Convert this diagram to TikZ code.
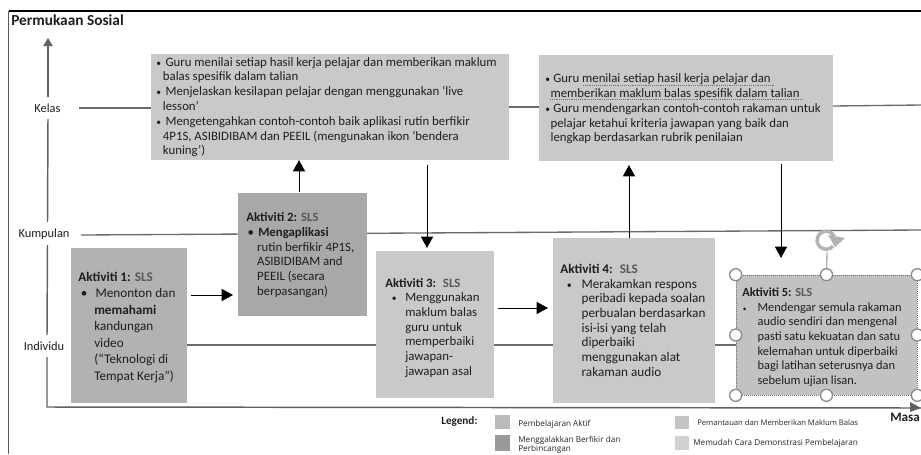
\documentclass[tikz,border=0pt]{standalone}
\usepackage{fontspec}
\setmainfont{Carlito}
\newfontfamily\legfont{Open Sans}
\usetikzlibrary{arrows.meta,fit}
\definecolor{txt}{HTML}{1E1E1E}
\definecolor{slsc}{HTML}{595959}
\newcommand{\SLS}{\textcolor{slsc}{SLS}}
\newcommand{\blt}{\makebox[0pt][l]{\textbullet}}
\newcommand{\sblt}{\makebox[0pt][l]{\scalebox{0.75}{\textbullet}}}
\tikzset{
 x=0.75pt,y=-0.75pt,
 panel/.style={fit={#1},inner sep=0pt,draw=none},
 body/.style={anchor=north west,inner sep=0pt,align=left,text=txt,font=\fontsize{9.6}{11.1}\selectfont},
 axis/.style={draw=black!62,line width=1.1pt},
 level/.style={anchor=center,inner sep=0pt,text=txt,font=\fontsize{9.3}{10}\selectfont},
 lane/.style={draw=black!58,line width=1pt},
 flow/.style={draw=black,line width=0.75pt,-{Triangle[length=8.5pt,width=9pt]}},
 handle/.style={circle,draw=black!45,fill=white,line width=1pt,minimum size=9pt,inner sep=0pt},
 legtext/.style={anchor=west,inner sep=0pt,text=black!85,font=\legfont\fontsize{6.15}{7.2}\selectfont},
 swatch/.style={fit={#1},inner sep=0pt},
 squiggle/.style={draw=black!55,densely dotted,line width=0.4pt}
}
\begin{document}
\begin{tikzpicture}
\useasboundingbox (0,0) rectangle (921,454);
\clip (0,0) rectangle (921,454);
\fill[white] (0,0) rectangle (921,454);
% frame
\draw[black,line width=0.8pt] (8.5,11) -- (921,11);
\draw[black!65,line width=1.1pt] (8.5,11) -- (8.5,454);
\node[anchor=west,inner sep=0pt,font=\bfseries\fontsize{11.5}{13}\selectfont,text=txt] (title) at (11,20) {Permukaan Sosial};
% levels
\node[level] (kelas) at (47.5,108) {Kelas};
\node[level] (kumpulan) at (44,234) {Kumpulan};
\node[level] (individu) at (44,346) {Individu};
\coordinate (ytop) at (48,38);
\coordinate (origin) at (47,407);
\coordinate (xend) at (921,408);
% boxes
\node[panel={(151,54)(509,160)},fill=black!21] (u1) {};
\node[panel={(539,55)(833,161)},fill=black!21] (u2) {};
% lanes behind lower boxes
\coordinate (ka) at (79,108);
\coordinate (kb) at (921,105);
\coordinate (ma) at (81,235);
\coordinate (mb) at (921,230);
\coordinate (ia) at (187,345);
\coordinate (ib) at (736,345);
\draw[lane] (ka) -- (u1.west |- ka);
\draw[lane] (509,107) -- (539,107);
\draw[lane] (833,106) -- (kb);
\draw[lane] (ma) -- (mb);
\draw[lane] (ia) -- (ib);
% axis
\draw[axis,-{Triangle[length=6pt,width=7pt]}] (48,97) -- (ytop);
\draw[axis] (48,119) -- (47.5,222);
\draw[axis] (47.5,245) -- (47,335);
\draw[axis] (47,357) -- (origin) -- (xend);
\fill[black!62] (921,408) -- (910,402) -- (910,412) -- cycle;
% lower boxes
\node[panel={(71,248)(187,403)},fill=black!30] (a1) {};
\node[panel={(238,193)(367,316)},fill=black!34] (a2) {};
\node[panel={(376,251)(494,398)},fill=black!21] (a3) {};
\node[panel={(553,238)(715,403)},fill=black!21] (a4) {};
\node[panel={(736,275)(917,395)},fill=black!24,draw=black!55,densely dotted,line width=0.5pt] (a5) {};
% texts
\node[body] (t1) at (156,57) {\sblt\hspace*{7pt}Guru menilai setiap hasil kerja pelajar dan memberikan maklum\\
\hspace*{5pt}balas spesifik dalam talian\\
\sblt\hspace*{7pt}Menjelaskan kesilapan pelajar dengan menggunakan ‘live\\
\hspace*{5pt}lesson’\\
\sblt\hspace*{7pt}Mengetengahkan contoh-contoh baik aplikasi rutin berfikir\\
\hspace*{5pt}4P1S, ASIBIDIBAM dan PEEIL (mengunakan ikon ‘bendera\\
\hspace*{5pt}kuning’)};
\node[body] (t2) at (545,73.5) {\sblt\hspace*{6pt}Guru menilai setiap hasil kerja pelajar dan\\
\hspace*{4pt}memberikan maklum balas spesifik dalam talian\\
\sblt\hspace*{6pt}Guru mendengarkan contoh-contoh rakaman untuk\\
\hspace*{4pt}pelajar ketahui kriteria jawapan yang baik dan\\
\hspace*{4pt}lengkap berdasarkan rubrik penilaian};
\draw[squiggle] (583,85) -- (775,85);
\draw[squiggle] (550,99.5) -- (803,99.5);
\node[body,font=\fontsize{9.9}{12.4}\selectfont] (t3) at (78,271.5) {\textbf{Aktiviti 1:} \textbf{\SLS}\\
\hspace*{2pt}\blt\hspace*{11pt}Menonton dan\\
\hspace*{12pt}\textbf{memahami}\\
\hspace*{12pt}kandungan\\
\hspace*{12pt}video\\
\hspace*{12pt}(“Teknologi di\\
\hspace*{12pt}Tempat Kerja”)};
\node[body,font=\fontsize{9.6}{11}\selectfont] (t4) at (246,212.5) {\textbf{Aktiviti 2:} \textbf{\SLS}\\
\hspace*{1pt}\blt\hspace*{8pt}\textbf{Mengaplikasi}\\
\hspace*{8.2pt}rutin berfikir 4P1S,\\
\hspace*{8.2pt}ASIBIDIBAM and\\
\hspace*{8.2pt}PEEIL (secara\\
\hspace*{8.2pt}berpasangan)};
\node[body,font=\fontsize{9.6}{11}\selectfont] (t5) at (385,278) {\textbf{Aktiviti 3:} \ \textbf{\SLS}\\
\hspace*{5pt}\sblt\hspace*{10pt}Menggunakan\\
\hspace*{15pt}maklum balas\\
\hspace*{15pt}guru untuk\\
\hspace*{15pt}memperbaiki\\
\hspace*{15pt}jawapan-\\
\hspace*{15pt}jawapan asal};
\node[body,font=\fontsize{9.9}{11}\selectfont] (t6) at (560,264) {\textbf{Aktiviti 4:} \ \textbf{\SLS}\\
\hspace*{5pt}\sblt\hspace*{11pt}Merakamkan respons\\
\hspace*{16pt}peribadi kepada soalan\\
\hspace*{16pt}perbualan berdasarkan\\
\hspace*{16pt}isi-isi yang telah\\
\hspace*{16pt}diperbaiki\\
\hspace*{16pt}menggunakan alat\\
\hspace*{16pt}rakaman audio};
\node[body,font=\fontsize{9.3}{11}\selectfont] (t7) at (742,287.5) {\textbf{Aktiviti 5:} \textbf{\SLS}\\
\makebox[0pt][l]{\hspace*{0.5pt}\scalebox{0.6}{\textbullet}}\hspace*{11.5pt}Mendengar semula rakaman\\
\hspace*{11.5pt}audio sendiri dan mengenal\\
\hspace*{11.5pt}pasti satu kekuatan dan satu\\
\hspace*{11.5pt}kelemahan untuk diperbaiki\\
\hspace*{11.5pt}bagi latihan seterusnya dan\\
\hspace*{11.5pt}sebelum ujian lisan.};
% connectors
\coordinate (f1s) at (299,192);\coordinate (f1e) at (299,160);
\coordinate (f2s) at (427,165);\coordinate (f2e) at (427,248);
\coordinate (f3s) at (191,295);\coordinate (f3e) at (233,295);
\coordinate (f4s) at (498,308);\coordinate (f4e) at (548,308);
\coordinate (f5s) at (629,238);\coordinate (f5e) at (629,165);
\coordinate (f6s) at (781,164);\coordinate (f6e) at (781,258);
\draw[flow] (f1s) -- (f1e);
\draw[flow] (f2s) -- (f2e);
\draw[flow] (f3s) -- (f3e);
\draw[flow] (f4s) -- (f4e);
\draw[flow] (f5s) -- (f5e);
\draw[flow] (f6s) -- (f6e);
% selection handles
\draw[black!30,line width=1pt] (a5.north) -- (827,252);
\draw[black!30,line width=2.6pt] (833,246) arc[start angle=40,end angle=340,radius=9];
\fill[black!30] (828,235) -- (845,238) -- (835,247) -- cycle;
\foreach \p in {north west,north,north east,west,east,south west,south,south east}
  \node[handle] at (a5.\p) {};
% legend
\node[anchor=west,inner sep=0pt,font=\bfseries\fontsize{8.4}{10}\selectfont,text=txt] (legend) at (441,422) {Legend:};
\node[swatch={(495,415)(510,429)},fill=black!27] (s1) {};
\node[swatch={(495,435)(510,451)},fill=black!40] (s2) {};
\node[swatch={(675,416)(689,429)},fill=black!23] (s3) {};
\node[swatch={(675,436)(689,450)},fill=black!18] (s4) {};
\node[legtext] (l1) at (518,424) {Pembelajaran Aktif};
\node[legtext,align=left] (l2) at (518,445) {Menggalakkan Berfikir dan\\Perbincangan};
\node[legtext,font=\legfont\fontsize{5.75}{8}\selectfont] (l3) at (697,423) {Pemantauan dan Memberikan Maklum Balas};
\node[legtext] (l4) at (693,443) {Memudah Cara Demonstrasi Pembelajaran};
\node[anchor=west,inner sep=0pt,font=\bfseries\fontsize{9.8}{12}\selectfont,text=txt] (masa) at (890,417) {Masa};
\end{tikzpicture}
\end{document}
